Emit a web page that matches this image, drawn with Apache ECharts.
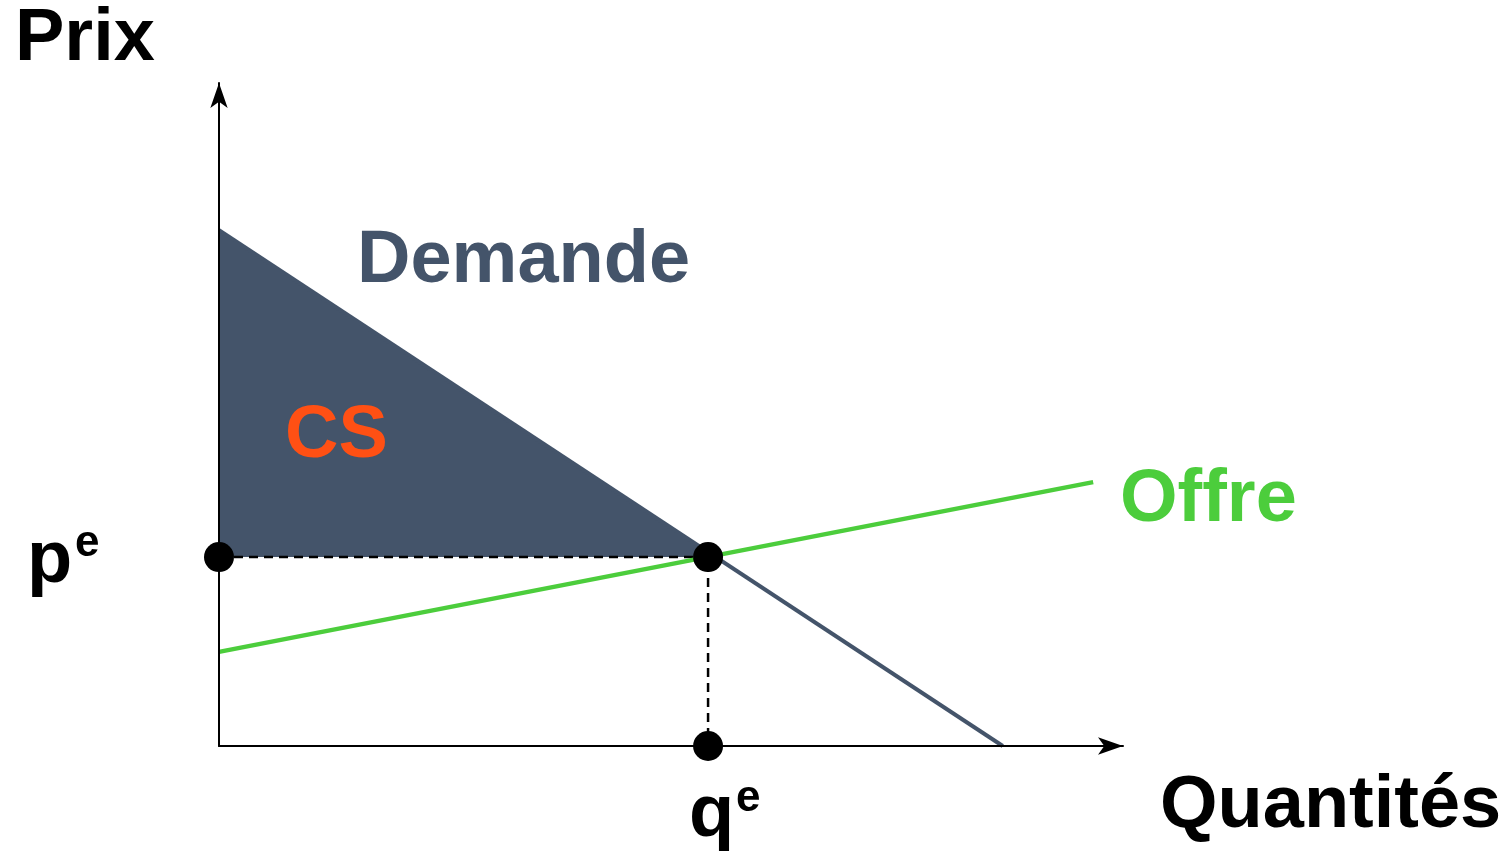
<!DOCTYPE html>
<html>
<head>
<meta charset="utf-8">
<script src="https://cdn.jsdelivr.net/npm/echarts@6/dist/echarts.min.js"></script>
<style>
  html, body { margin: 0; padding: 0; background: #fff; }
  #main { width: 1511px; height: 853px; }
</style>
</head>
<body>
<div id="main"></div>
<script>
// points of the two curves, in chart units (x: 0-100, y: 0-100)
const demande = [[0, 77.8], [86.7, 0]];
const offre = [[0, 14.2], [96.7, 39.8]];
const surplus = [[0, 77.8], [0, 28.5], [54.9, 28.5]];
const pointilles = [[0, 28.5], [54.1, 28.5], [54.1, 0]];
const points = [[0, 28.5], [54.1, 28.5], [54.1, 0]];

const font = "'Liberation Sans', Arial, sans-serif";
const bleu = "#44546a";
const vert = "#4ccd3c";

const chart = echarts.init(document.getElementById("main"));

function texte(txt, x, y, size, color) {
  return {
    type: "text",
    x: x,
    y: y,
    z: 100,
    style: {
      text: txt,
      font: "bold " + size + "px " + font,
      fill: color,
      textAlign: "left",
      textVerticalAlign: "middle",
    },
  };
}

const axe = {
  type: "value",
  min: 0,
  max: 100,
  z: 10,
  axisLine: {
    show: true,
    onZero: false,
    symbol: ["none", "arrow"],
    symbolSize: [13, 25],
    lineStyle: { color: "#000", width: 2 },
  },
  axisTick: { show: false },
  axisLabel: { show: false },
  splitLine: { show: false },
};

const option = {
  animation: false,
  grid: { left: 219, top: 83, right: 388, bottom: 107 },
  xAxis: axe,
  yAxis: axe,
  series: [
    {
      // surplus du consommateur
      type: "custom",
      z: 1,
      data: [0],
      renderItem: function (params, api) {
        return {
          type: "polygon",
          shape: { points: surplus.map((p) => api.coord(p)) },
          style: { fill: bleu },
        };
      },
    },
    {
      type: "line",
      z: 2,
      data: demande,
      symbol: "none",
      lineStyle: { color: bleu, width: 4 },
    },
    {
      type: "line",
      z: 3,
      data: pointilles,
      symbol: "none",
      lineStyle: { color: "#000", width: 2.5, type: [9, 6] },
    },
    {
      type: "line",
      z: 4,
      data: offre,
      symbol: "none",
      lineStyle: { color: vert, width: 4.5 },
    },
    {
      type: "scatter",
      z: 20,
      data: points,
      symbolSize: 30,
      itemStyle: { color: "#000", opacity: 1 },
    },
  ],
  graphic: [
    texte("Prix", 15, 40, 74, "#000"),
    texte("Quantités", 1160, 807, 74, "#000"),
    texte("Demande", 357, 262, 74, bleu),
    texte("CS", 285, 437, 74, "#ff5014"),
    texte("Offre", 1120, 501, 74, vert),
    texte("p", 27, 562, 74, "#000"),
    texte("e", 75, 544, 44, "#000"),
    texte("q", 689, 816, 74, "#000"),
    texte("e", 736, 799, 44, "#000"),
  ],
};

chart.setOption(option);
window.addEventListener("resize", () => chart.resize());
</script>
</body>
</html>
